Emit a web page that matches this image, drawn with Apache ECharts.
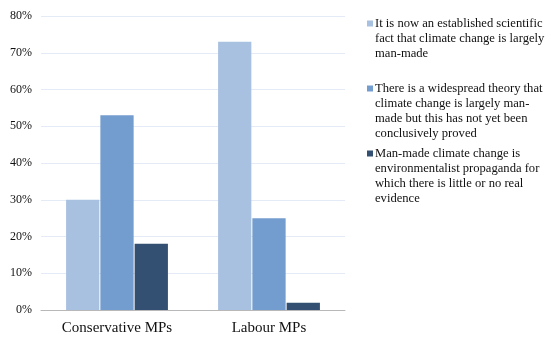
<!DOCTYPE html>
<html>
<head>
<meta charset="utf-8">
<script src="https://cdn.jsdelivr.net/npm/echarts@6/dist/echarts.min.js"></script>
<style>
  html, body { margin: 0; padding: 0; background: #fff; }
  #chart { width: 550px; height: 347px; }
</style>
</head>
<body>
<div id="chart"></div>
<script>
// Survey of MPs: views on man-made climate change
const categories = ['Conservative MPs', 'Labour MPs'];
const seriesNames = [
  'It is now an established scientific\nfact that climate change is largely\nman-made',
  'There is a widespread theory that\nclimate change is largely man-\nmade but this has not yet been\nconclusively proved',
  'Man-made climate change is\nenvironmentalist propaganda for\nwhich there is little or no real\nevidence'
];
const establishedFact = [30, 73];
const unprovenTheory = [53, 25];
const propaganda = [18, 2];
const yTicks = [0, 10, 20, 30, 40, 50, 60, 70, 80];

const colors = ['#A9C1E0', '#749DCF', '#334F72'];
const values = [establishedFact, unprovenTheory, propaganda];
const FONT = "'Liberation Serif', serif";
const LINE_H = 15;

// Legend icon: a small square on the first text line, padded to the full block height
function iconFor(lines) {
  const h = lines * LINE_H;
  const top = LINE_H / 2 - 3;
  return 'path://M0,' + top + 'L6,' + top + 'L6,' + (top + 6) + 'L0,' + (top + 6) + 'Z M0,0 M0,' + h;
}

const legendTops = [16, 81, 146];
const legends = seriesNames.map((name, i) => {
  const lines = name.split('\n').length;
  return {
    data: [name],
    orient: 'vertical',
    left: 367,
    top: legendTops[i],
    icon: iconFor(lines),
    itemWidth: 6,
    itemHeight: lines * LINE_H,
    itemGap: 0,
    padding: 0,
    selectedMode: false,
    textStyle: { fontFamily: FONT, fontSize: 12.6, color: '#111', lineHeight: LINE_H, padding: [0, 0, 0, -3] }
  };
});

const chart = echarts.init(document.getElementById('chart'), null, { renderer: 'canvas' });
chart.setOption({
  animation: false,
  backgroundColor: '#fff',
  grid: { left: 41, right: 205, top: 16, bottom: 37, containLabel: false },
  legend: legends,
  xAxis: {
    type: 'category',
    data: categories,
    axisLine: { show: true, lineStyle: { color: '#B8B8B8', width: 1 } },
    axisTick: { show: false },
    axisLabel: { interval: 0, fontFamily: FONT, fontSize: 15, color: '#111', margin: 11 }
  },
  yAxis: {
    type: 'value',
    min: yTicks[0],
    max: yTicks[yTicks.length - 1],
    interval: 10,
    axisLine: { show: false },
    axisTick: { show: false },
    splitLine: { lineStyle: { color: '#E4EBF6', width: 1 } },
    axisLabel: { fontFamily: FONT, fontSize: 12, color: '#111', margin: 9, formatter: v => v + '%' }
  },
  series: seriesNames.map((name, i) => ({
    name: name,
    type: 'bar',
    data: values[i],
    barCategoryGap: '33%',
    barGap: '3%',
    itemStyle: { color: colors[i] }
  }))
});
</script>
</body>
</html>
